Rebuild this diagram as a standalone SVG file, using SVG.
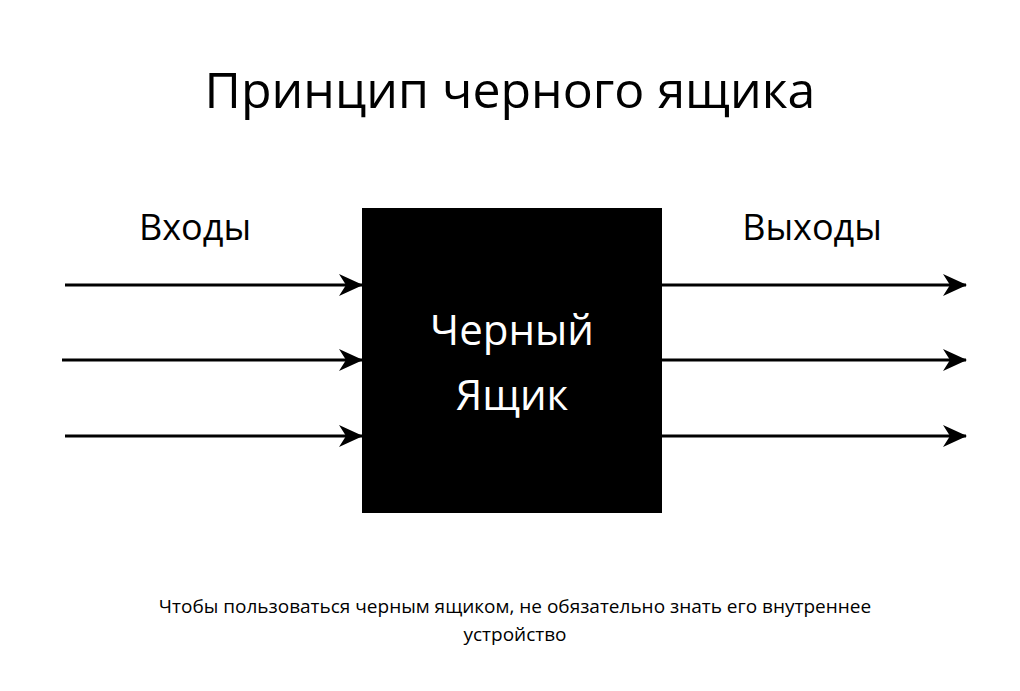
<svg xmlns="http://www.w3.org/2000/svg" width="1020" height="691" viewBox="0 0 1020 691">
<style>
text{font-family:"Open Sans","Noto Sans",sans-serif;text-anchor:middle}
.c line{stroke:#000;stroke-width:3}
</style>
<defs><marker id="a" markerWidth="12" markerHeight="12" refX="11" refY="6" orient="auto" markerUnits="userSpaceOnUse" viewBox="0 0 12 12"><path d="M0,0 L12,6 L0,12 L4,6 Z" fill="#000"/></marker>
<marker id="b" markerWidth="24" markerHeight="24" refX="23" refY="12" orient="auto" markerUnits="userSpaceOnUse" viewBox="0 0 24 24"><path d="M0,1 L24,12 L0,23 L7,12 Z" fill="#000"/></marker></defs>
<rect width="1020" height="691" fill="#fff"/>
<text x="510" y="108" font-size="50">Принцип черного ящика</text>
<g id="inputs"><text x="195" y="240" font-size="36">Входы</text></g>
<g id="outputs"><text x="812" y="240" font-size="36">Выходы</text></g>
<g id="box"><rect x="362" y="208" width="300" height="305" fill="#000"/>
<text x="512" y="345" font-size="42" fill="#fff">Черный</text>
<text x="512" y="410" font-size="42" fill="#fff">Ящик</text></g>
<g class="c" id="connectors">
<line x1="65" y1="285" x2="362" y2="285" marker-end="url(#b)"/>
<line x1="62" y1="360" x2="362" y2="360" marker-end="url(#b)"/>
<line x1="65" y1="436" x2="362" y2="436" marker-end="url(#b)"/>
<line x1="662" y1="285" x2="966" y2="285" marker-end="url(#b)"/>
<line x1="662" y1="360" x2="966" y2="360" marker-end="url(#b)"/>
<line x1="662" y1="436" x2="966" y2="436" marker-end="url(#b)"/>
</g>
<text x="515" y="613" font-size="19">Чтобы пользоваться черным ящиком, не обязательно знать его внутреннее</text>
<text x="515" y="641" font-size="19">устройство</text>
</svg>
